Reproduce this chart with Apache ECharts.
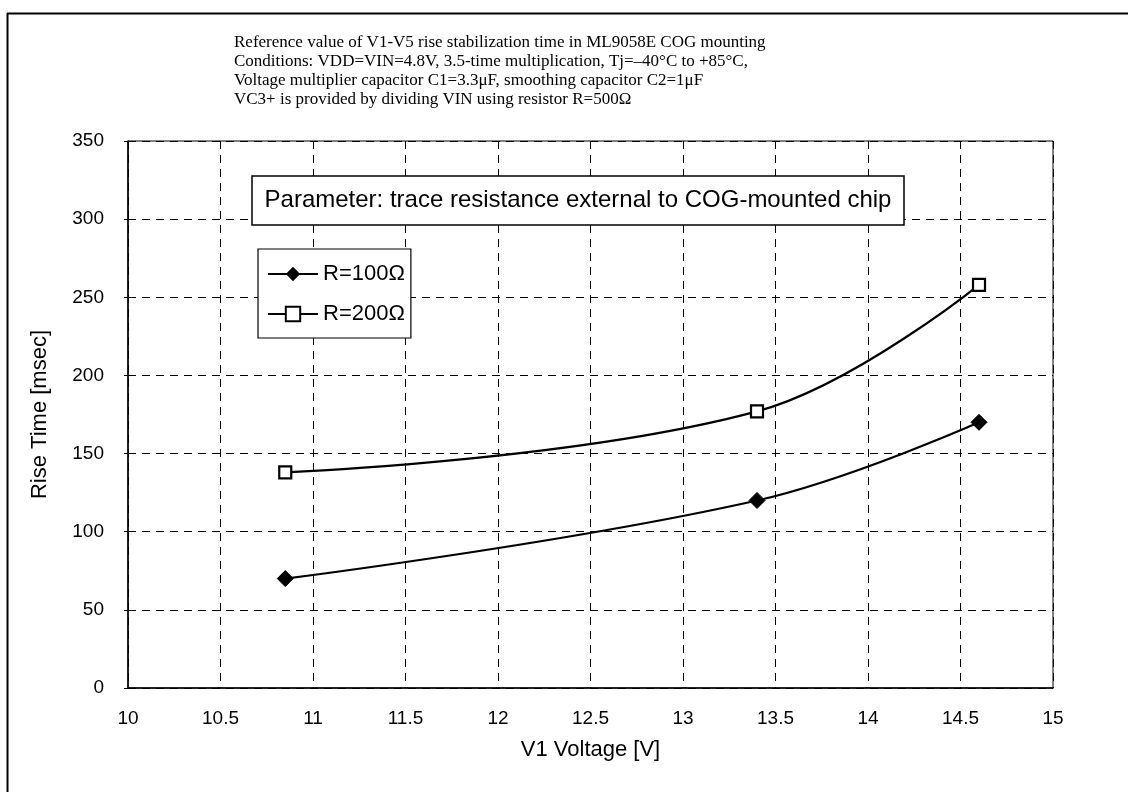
<!DOCTYPE html>
<html>
<head>
<meta charset="utf-8">
<script src="https://cdn.jsdelivr.net/npm/echarts@6/dist/echarts.min.js"></script>
<style>
html,body{margin:0;padding:0;background:#fff;}
#chart{width:1128px;height:792px;}
</style>
</head>
<body>
<div id="chart"></div>
<script>
const titleLines = [
  'Reference value of V1-V5 rise stabilization time in ML9058E COG mounting',
  'Conditions: VDD=VIN=4.8V, 3.5-time multiplication, Tj=\u201340\u00b0C to +85\u00b0C,',
  'Voltage multiplier capacitor C1=3.3\u03bcF, smoothing capacitor C2=1\u03bcF',
  'VC3+ is provided by dividing VIN using resistor R=500\u03a9'
];
const parameterText = 'Parameter: trace resistance external to COG-mounted chip';
const seriesNames = ['R=100\u03a9', 'R=200\u03a9'];
const voltage = [10.85, 13.4, 14.6];
const riseR100 = [70, 120, 170];
const riseR200 = [138, 177, 258];

const chart = echarts.init(document.getElementById('chart'), null, {renderer: 'canvas'});
const pairs = ys => voltage.map((x, i) => [x, ys[i]]);
const font = 'Liberation Sans, Arial, sans-serif';

chart.setOption({
  animation: false,
  backgroundColor: '#fff',
  grid: {left: 128, right: 75, top: 141, bottom: 104, show: true, borderColor: '#000', borderWidth: 1, backgroundColor: 'transparent'},
  xAxis: {
    type: 'value', min: 10, max: 15, interval: 0.5,
    name: 'V1 Voltage [V]', nameLocation: 'middle', nameGap: 51,
    nameTextStyle: {fontFamily: font, fontSize: 22, color: '#000'},
    axisLine: {lineStyle: {color: '#000', width: 1.5}},
    axisTick: {show: false},
    axisLabel: {fontFamily: font, fontSize: 19, color: '#000', margin: 21},
    splitLine: {lineStyle: {color: '#000', type: [8, 6], width: 1}}
  },
  yAxis: {
    type: 'value', min: 0, max: 350, interval: 50,
    name: 'Rise Time [msec]', nameLocation: 'middle', nameGap: 77,
    nameTextStyle: {fontFamily: font, fontSize: 22, color: '#000'},
    axisLine: {show: true, lineStyle: {color: '#000', width: 1.5}},
    axisTick: {show: true, length: 4, lineStyle: {color: '#000'}},
    axisLabel: {fontFamily: font, fontSize: 19, color: '#000', margin: 24},
    splitLine: {lineStyle: {color: '#000', type: [8, 6], width: 1}}
  },
  legend: {
    orient: 'vertical', left: 258, top: 249,
    padding: [14, 6, 13, 9],
    itemGap: 18, itemWidth: 50, itemHeight: 18,
    borderColor: '#000', borderWidth: 1.2, backgroundColor: '#fff',
    textStyle: {fontFamily: font, fontSize: 22, color: '#000'},
    data: seriesNames
  },
  series: [
    {
      name: seriesNames[0], type: 'line', data: pairs(riseR100), smooth: 0.4,
      symbol: 'diamond', symbolSize: 16,
      lineStyle: {color: '#000', width: 2.2},
      itemStyle: {color: '#000', borderColor: '#000'}
    },
    {
      name: seriesNames[1], type: 'line', data: pairs(riseR200), smooth: 0.4,
      symbol: 'rect', symbolSize: 12,
      lineStyle: {color: '#000', width: 2.2},
      itemStyle: {color: '#fff', borderColor: '#000', borderWidth: 2.2}
    }
  ],
  graphic: [
    {type: 'line', z: 100, shape: {x1: 7.5, y1: 13, x2: 7.5, y2: 792}, style: {stroke: '#000', lineWidth: 2}},
    {type: 'line', z: 100, shape: {x1: 7, y1: 13.5, x2: 1128, y2: 13.5}, style: {stroke: '#000', lineWidth: 2}},
    {type: 'text', z: 100, left: 234, top: 33, style: {text: titleLines.join('\n'), font: '17px "Liberation Serif", "Times New Roman", serif', fill: '#000', lineHeight: 19}},
    {type: 'rect', z: 100, shape: {x: 252, y: 176, width: 652, height: 49}, style: {fill: '#fff', stroke: '#000', lineWidth: 1.5}},
    {type: 'text', z: 101, x: 578, y: 200, style: {text: parameterText, font: '24px "Liberation Sans", Arial, sans-serif', fill: '#000', align: 'center', verticalAlign: 'middle'}}
  ]
});
</script>
</body>
</html>
